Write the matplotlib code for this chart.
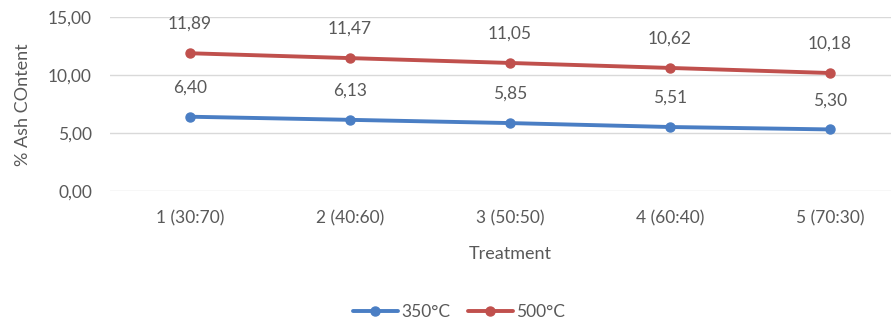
import matplotlib
matplotlib.use('Agg')
import matplotlib.pyplot as plt
from matplotlib.ticker import FuncFormatter

treatments = ['1 (30:70)', '2 (40:60)', '3 (50:50)', '4 (60:40)', '5 (70:30)']
ash_350 = [6.40, 6.13, 5.85, 5.51, 5.30]
ash_500 = [11.89, 11.47, 11.05, 10.62, 10.18]
series = [('350°C', ash_350, '#4A7EC4'), ('500°C', ash_500, '#C0504D')]

plt.rcParams['font.family'] = ['Lato', 'DejaVu Sans']
text_color = '#595959'
fs = 12.5


def comma(v, pos=None):
    return f'{v:.2f}'.replace('.', ',')


fig = plt.figure(figsize=(8.91, 3.25), dpi=100)
ax = fig.add_axes([110 / 891, 1 - 190.7 / 325, 800 / 891, 173.4 / 325])

x = list(range(len(treatments)))
for name, vals, color in series:
    ax.plot(x, vals, color=color, lw=2.8, marker='o', ms=6.5, label=name,
            solid_capstyle='round')
    for xi, v in zip(x, vals):
        ax.annotate(comma(v), (xi, v), xytext=(0, 21), textcoords='offset points',
                    ha='center', va='center', fontsize=fs, color=text_color)

ax.set_xlim(-0.5, 4.5)
ax.set_ylim(0, 15)
ax.set_yticks([0, 5, 10, 15])
ax.yaxis.set_major_formatter(FuncFormatter(comma))
ax.set_xticks(x)
ax.set_xticklabels(treatments)
ax.grid(axis='y', color='#D9D9D9', lw=1)
ax.set_axisbelow(True)
for s in ax.spines.values():
    s.set_visible(False)
ax.tick_params(length=0, colors=text_color, labelsize=fs)
ax.tick_params(axis='x', pad=14)
ax.tick_params(axis='y', pad=13)

ax.set_xlabel('Treatment', fontsize=13, color=text_color, labelpad=14)
fig.text(23 / 891, 1 - 105 / 325, '% Ash COntent', rotation=90, ha='center', va='center',
         fontsize=13, color=text_color)

fig.legend(loc='center', bbox_to_anchor=(459 / 891, 1 - 312 / 325), ncol=2, frameon=False,
           fontsize=fs, labelcolor=text_color, handlelength=2.6, columnspacing=1.0,
           handletextpad=0.2)

fig.savefig('out.png', dpi=100)
